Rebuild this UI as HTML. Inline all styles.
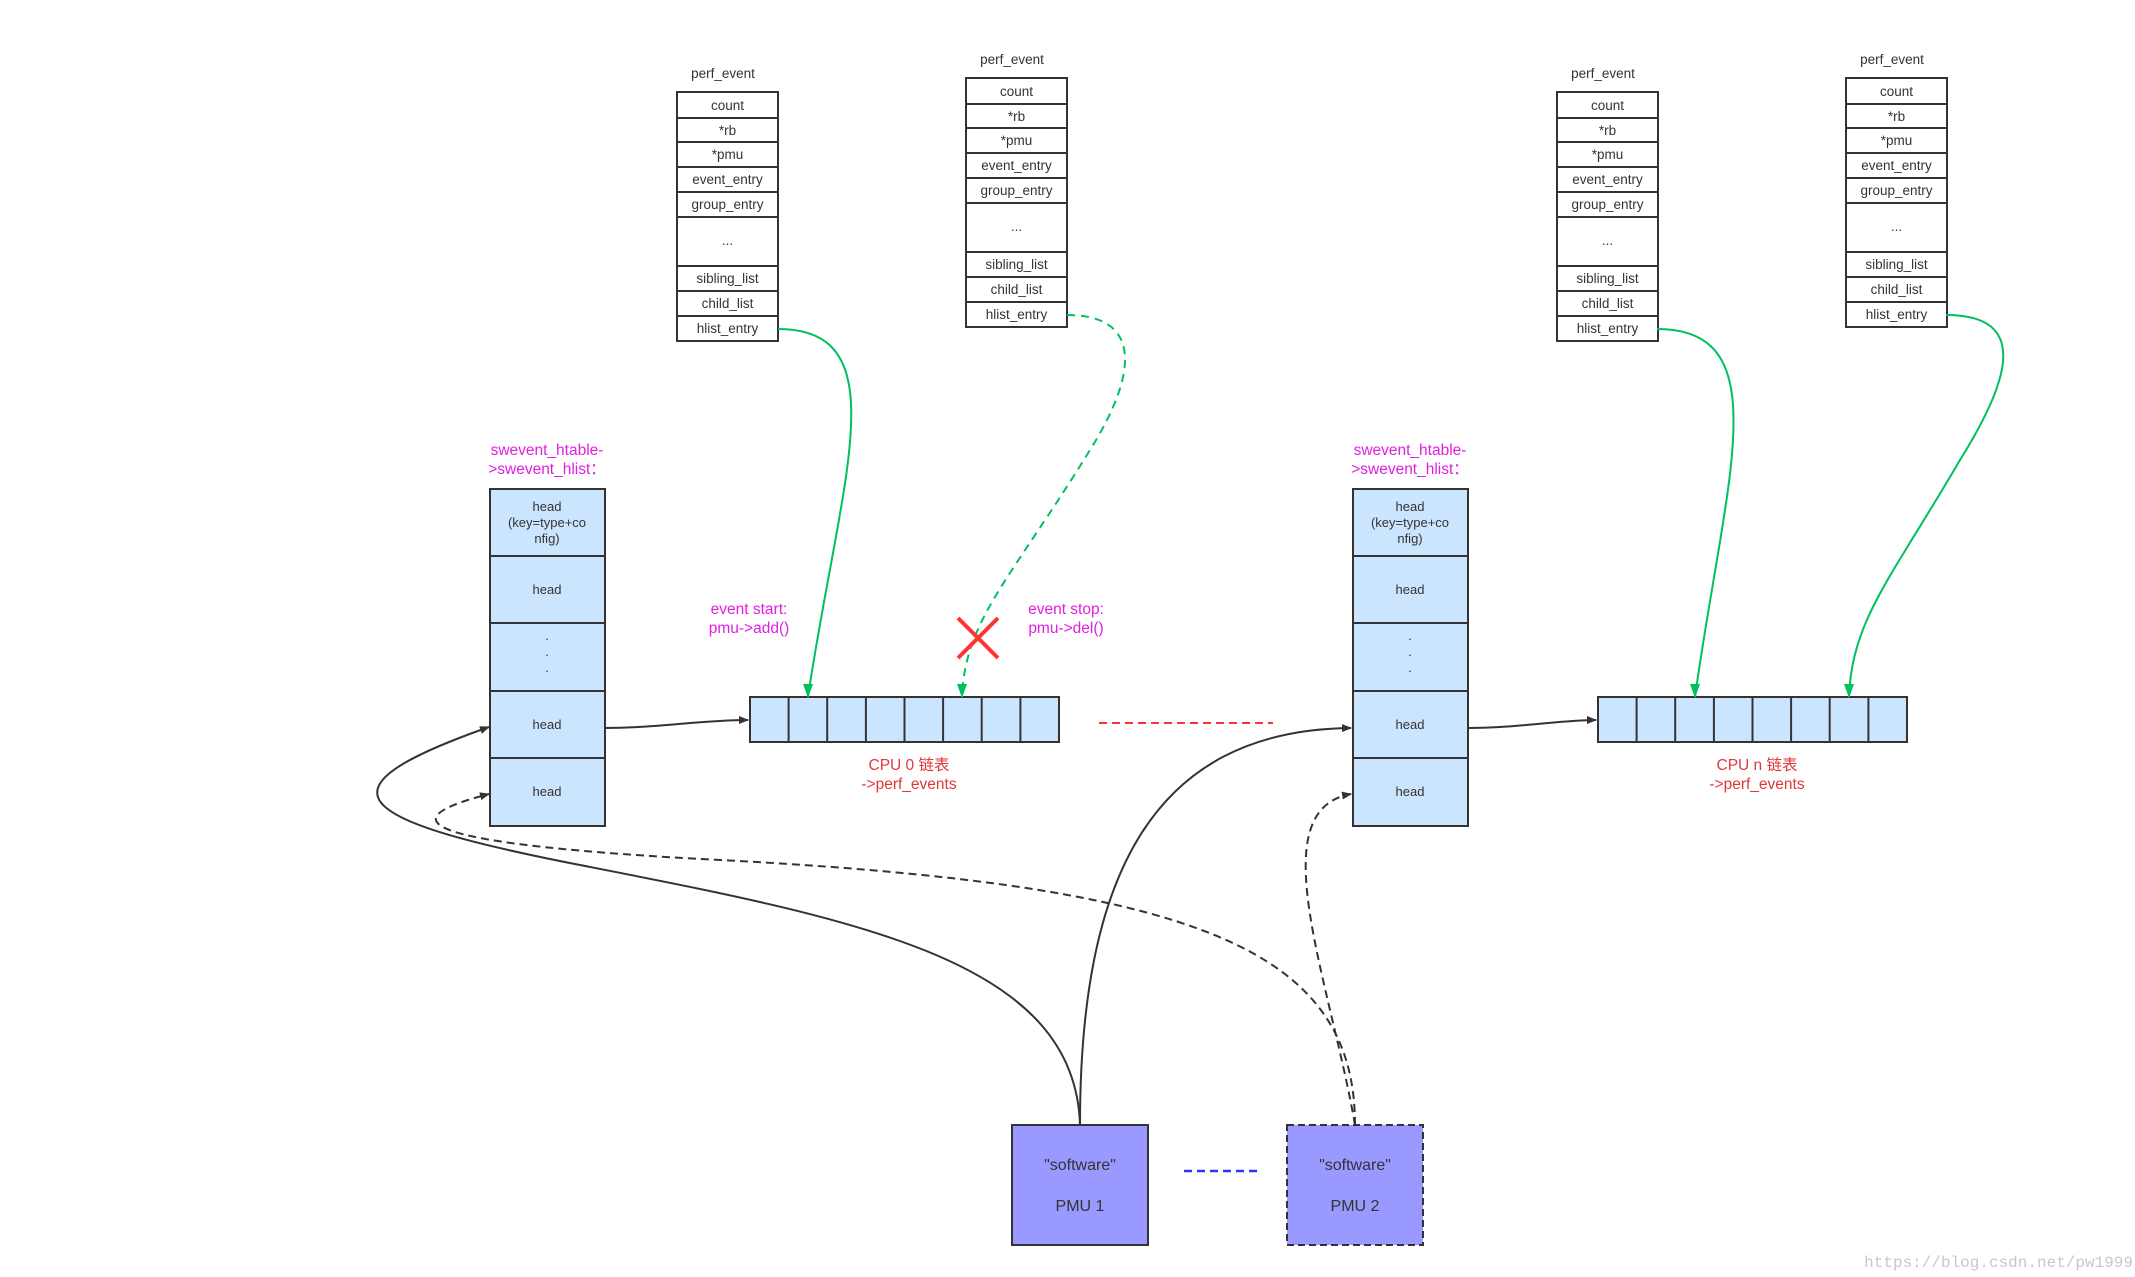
<!DOCTYPE html>
<html><head><meta charset="utf-8"><style>
html,body{margin:0;padding:0;background:#fff;}
svg{display:block;}
text{font-family:"Liberation Sans","Noto Sans CJK SC",sans-serif;}
</style></head><body>
<svg width="2135" height="1277" viewBox="0 0 2135 1277" xmlns="http://www.w3.org/2000/svg">
<defs>
<marker id="ab" markerWidth="10" markerHeight="8" refX="9" refY="4" orient="auto" markerUnits="userSpaceOnUse" viewBox="0 0 10 8"><path d="M0,0 L10,4 L0,8 Z" fill="#333"/></marker>
<marker id="ag" markerWidth="10" markerHeight="14" refX="5" refY="13" orient="0" markerUnits="userSpaceOnUse" viewBox="0 0 10 14"><path d="M0,0 L10,0 L5,14 Z" fill="#00c060"/></marker>
<g id="pe">
<rect x="0" y="0" width="101" height="249" fill="#fff" stroke="#333" stroke-width="2"/>
<g stroke="#333" stroke-width="2">
<line x1="0" y1="26" x2="101" y2="26"/><line x1="0" y1="50" x2="101" y2="50"/><line x1="0" y1="75" x2="101" y2="75"/><line x1="0" y1="100" x2="101" y2="100"/><line x1="0" y1="125" x2="101" y2="125"/><line x1="0" y1="174" x2="101" y2="174"/><line x1="0" y1="199" x2="101" y2="199"/><line x1="0" y1="224" x2="101" y2="224"/>
</g>
<g font-size="13.5" fill="#333" text-anchor="middle">
<text x="50.5" y="18">count</text><text x="50.5" y="43">*rb</text><text x="50.5" y="67">*pmu</text><text x="50.5" y="92">event_entry</text><text x="50.5" y="117">group_entry</text><text x="50.5" y="153">...</text><text x="50.5" y="191">sibling_list</text><text x="50.5" y="216">child_list</text><text x="50.5" y="241">hlist_entry</text>
<text x="46" y="-14">perf_event</text>
</g>
</g>
<g id="ht">
<rect x="0" y="0" width="115" height="337" fill="#cce5ff" stroke="#333" stroke-width="2"/>
<g stroke="#333" stroke-width="2"><line x1="0" y1="67" x2="115" y2="67"/><line x1="0" y1="134" x2="115" y2="134"/><line x1="0" y1="202" x2="115" y2="202"/><line x1="0" y1="269" x2="115" y2="269"/></g>
<g font-size="13" fill="#333" text-anchor="middle">
<text x="57" y="22">head</text><text x="57" y="38">(key=type+co</text><text x="57" y="54">nfig)</text>
<text x="57" y="105">head</text>
<text x="57" y="151">.</text><text x="57" y="167">.</text><text x="57" y="183">.</text>
<text x="57" y="240">head</text><text x="57" y="307">head</text>
</g>
<g font-size="15.5" fill="#e020e0" text-anchor="middle"><text x="57" y="-34">swevent_htable-</text><text x="57" y="-15">&gt;swevent_hlist：</text></g>
</g>
<g id="arr">
<rect x="0" y="0" width="309" height="45" fill="#cce5ff" stroke="#333" stroke-width="2"/>
<g stroke="#333" stroke-width="2"><line x1="38.6" y1="0" x2="38.6" y2="45"/><line x1="77.2" y1="0" x2="77.2" y2="45"/><line x1="115.9" y1="0" x2="115.9" y2="45"/><line x1="154.5" y1="0" x2="154.5" y2="45"/><line x1="193.1" y1="0" x2="193.1" y2="45"/><line x1="231.7" y1="0" x2="231.7" y2="45"/><line x1="270.4" y1="0" x2="270.4" y2="45"/></g>
</g>
</defs>

<use href="#pe" x="677" y="92"/>
<use href="#pe" x="966" y="78"/>
<use href="#pe" x="1557" y="92"/>
<use href="#pe" x="1846" y="78"/>

<use href="#ht" x="490" y="489"/>
<use href="#ht" x="1353" y="489"/>
<use href="#arr" x="750" y="697"/>
<use href="#arr" x="1598" y="697"/>

<g font-size="15.5" fill="#e020e0" text-anchor="middle">
<text x="749" y="614">event start:</text><text x="749" y="633">pmu-&gt;add()</text>
<text x="1066" y="614">event stop:</text><text x="1066" y="633">pmu-&gt;del()</text>
</g>
<g font-size="15.5" fill="#e03838" text-anchor="middle">
<text x="909" y="770">CPU 0 链表</text><text x="909" y="789">-&gt;perf_events</text>
<text x="1757" y="770">CPU n 链表</text><text x="1757" y="789">-&gt;perf_events</text>
</g>

<g fill="none" stroke="#00c060" stroke-width="2">
<path d="M778,329 C900,329 840,480 808,697" marker-end="url(#ag)"/>
<path d="M1067,315 C1140,315 1140,370 1090,450 C1010,580 965,620 962,697" stroke-dasharray="8,6" marker-end="url(#ag)"/>
<path d="M1657,329 C1780,329 1725,480 1695,697" marker-end="url(#ag)"/>
<path d="M1946,315 C2030,315 2010,380 1960,460 C1890,580 1852,620 1849,697" marker-end="url(#ag)"/>
</g>
<g stroke="#ff3333" stroke-width="4"><line x1="958" y1="618" x2="998" y2="658"/><line x1="998" y1="618" x2="958" y2="658"/></g>

<g fill="none" stroke="#333" stroke-width="2">
<path d="M605,728 C660,728 700,720 748,720" marker-end="url(#ab)"/>
<path d="M1467,728 C1520,728 1560,720 1596,720" marker-end="url(#ab)"/>
<path d="M1080,1125 C1075,960 860,920 580,865 C350,820 310,790 489,727" marker-end="url(#ab)"/>
<path d="M1080,1125 C1080,880 1150,730 1351,728" marker-end="url(#ab)"/>
<path d="M1355,1125 C1355,950 1200,885 720,860 C430,845 380,822 489,794" stroke-dasharray="8,5" marker-end="url(#ab)"/>
<path d="M1355,1125 C1330,980 1260,810 1351,794" stroke-dasharray="8,5" marker-end="url(#ab)"/>
</g>

<line x1="1099" y1="723" x2="1273" y2="723" stroke="#ff3333" stroke-width="2" stroke-dasharray="8,5"/>
<line x1="1184" y1="1171" x2="1261" y2="1171" stroke="#3333ff" stroke-width="2.5" stroke-dasharray="8,5"/>

<rect x="1012" y="1125" width="136" height="120" fill="#9999ff" stroke="#333" stroke-width="2"/>
<rect x="1287" y="1125" width="136" height="120" fill="#9999ff" stroke="#333" stroke-width="2" stroke-dasharray="7,4"/>
<g font-size="16" fill="#333" text-anchor="middle">
<text x="1080" y="1170">"software"</text><text x="1080" y="1211">PMU 1</text>
<text x="1355" y="1170">"software"</text><text x="1355" y="1211">PMU 2</text>
</g>
<text x="2133" y="1267" text-anchor="end" font-size="16" fill="#c8c8c8" style="font-family:'Liberation Mono',monospace">https://blog.csdn.net/pw1999</text>
</svg>
</body></html>
